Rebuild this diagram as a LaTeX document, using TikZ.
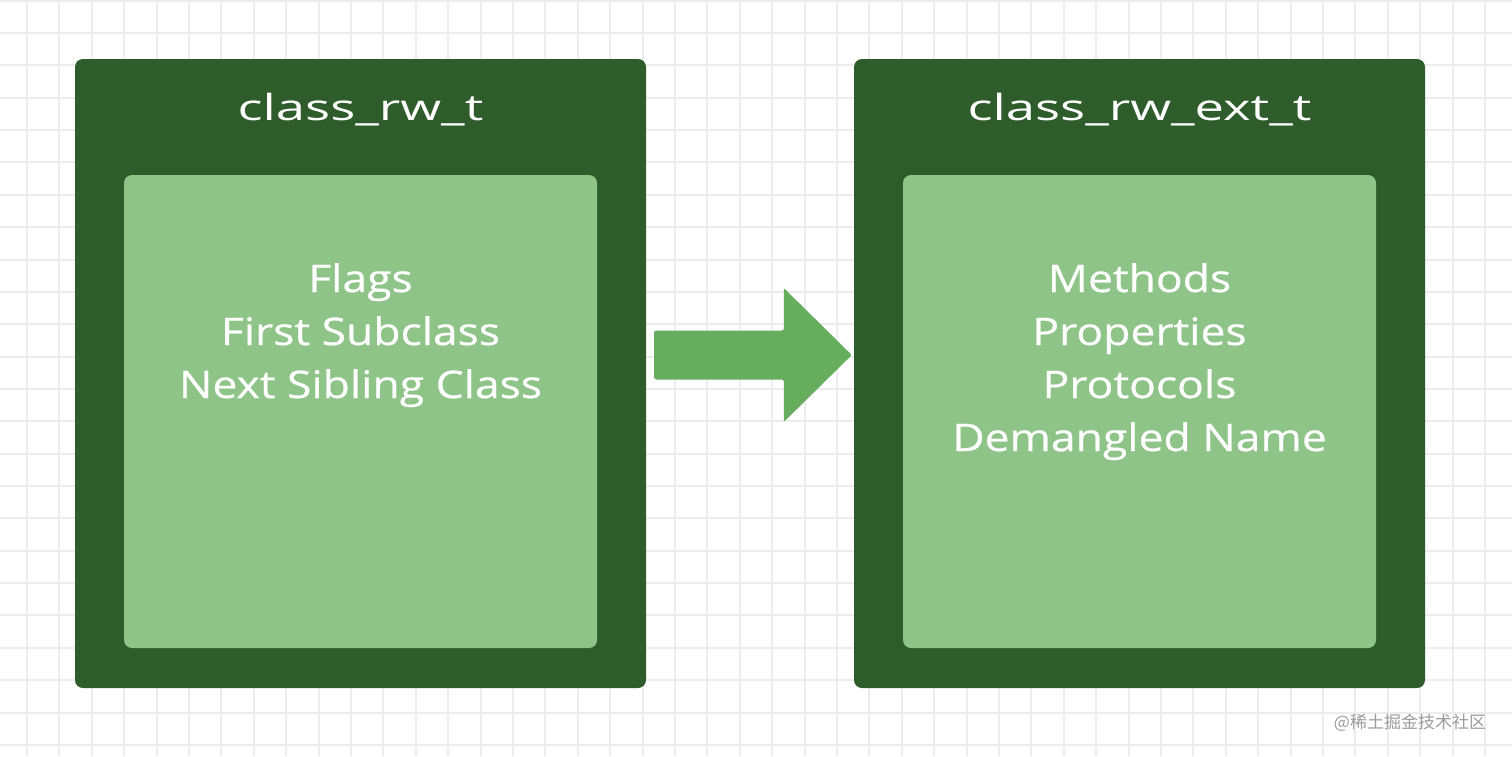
\documentclass[tikz,border=0pt]{standalone}
\usepackage{fontspec}
\setmainfont{Open Sans}
\newfontfamily\cjkfont{Noto Sans CJK SC}
\newfontfamily\titlefont[FakeStretch=1.46]{Open Sans}
\newfontfamily\bodyfont[FakeBold=0.6,FakeStretch=1.17]{Open Sans}
\definecolor{outergreen}{HTML}{2E5C2A}
\definecolor{innergreen}{HTML}{8FC489}
\definecolor{arrowgreen}{HTML}{66AD5E}
\definecolor{gridgray}{HTML}{EDEDED}
\definecolor{markgray}{HTML}{9C9C9C}
\tikzset{
  outerbox/.style={fill=outergreen, rounded corners=8pt, draw=none},
  innerbox/.style={fill=innergreen, rounded corners=8pt, draw=none},
  titletext/.style={text=white, font=\titlefont\fontsize{36}{44}\selectfont, anchor=base, inner sep=0pt},
  bodytext/.style={text=white, font=\bodyfont\fontsize{38}{46}\selectfont, anchor=base, inner sep=0pt},
  gridline/.style={draw=gridgray, line width=2pt},
}
\begin{document}
\begin{tikzpicture}[x=1pt, y=-1pt]
\useasboundingbox (0,0) rectangle (1512,756);
\fill[white] (0,0) rectangle (1512,756);
% grid
\foreach \k in {0,...,45} {
  \draw[gridline] ({27+32.4*\k},0) -- ({27+32.4*\k},756);
}
\foreach \k in {-1,0,...,22} {
  \draw[gridline] (0,{33+32.36*\k}) -- (1512,{33+32.36*\k});
}
% left box
\path[outerbox] (75,59) rectangle (646,688);
\node[inner sep=0pt, minimum width=571pt, minimum height=629pt] (rw) at (360.5,373.5) {};
\path[innerbox] (124,175) rectangle (597,648);
\node[titletext] (rwtitle) at (360.5,120) {class\_rw\_t};
\node[bodytext] (flags) at (360.5,292) {Flags};
\node[bodytext] (firstsub) at (360.5,345) {First Subclass};
\node[bodytext] (nextsib) at (360.5,398) {Next Sibling Class};
% right box
\path[outerbox] (854,59) rectangle (1425,688);
\node[inner sep=0pt, minimum width=571pt, minimum height=629pt] (rwext) at (1139.5,373.5) {};
\path[innerbox] (903,175) rectangle (1376,648);
\node[titletext] (rwexttitle) at (1139.5,120) {class\_rw\_ext\_t};
\node[bodytext] (methods) at (1139.5,292) {Methods};
\node[bodytext] (props) at (1139.5,345) {Properties};
\node[bodytext] (protos) at (1139.5,398) {Protocols};
\node[bodytext] (demangled) at (1139.5,451) {Demangled Name};
% block arrow
\coordinate (astart) at ([xshift=8pt]rw.east);
\coordinate (atip) at ([xshift=-2pt,yshift=18.5pt]rwext.west);
\fill[arrowgreen, rounded corners=2pt]
  ([yshift=-24.5pt]astart |- atip) -- ([xshift=-68pt,yshift=-24.5pt]atip) -- ([xshift=-68pt,yshift=-67pt]atip)
  -- (atip) -- ([xshift=-68pt,yshift=67pt]atip) -- ([xshift=-68pt,yshift=24.5pt]atip) -- ([yshift=24.5pt]astart |- atip) -- cycle;
% watermark
\node[text=markgray, font=\cjkfont\fontsize{17}{20}\selectfont, inner sep=0pt] (mark) at (1410,723) {@稀土掘金技术社区};
\end{tikzpicture}
\end{document}
